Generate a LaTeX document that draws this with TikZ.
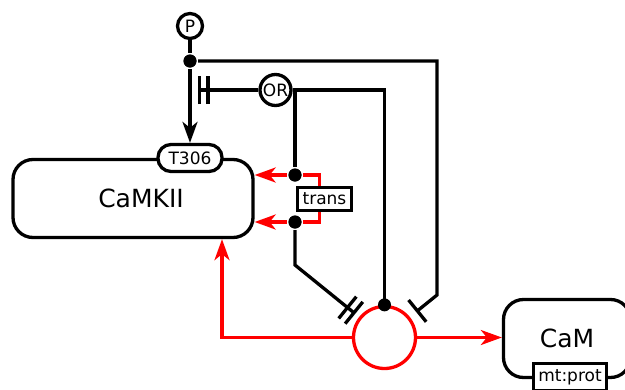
\documentclass[tikz,border=0pt]{standalone}
\usepackage{fontspec}
\setmainfont{DejaVu Sans}
\usetikzlibrary{arrows.meta,calc}
\begin{document}
\begin{tikzpicture}[x=1pt,y=-1pt, line width=3.3pt,
  small/.style={font=\fontsize{17}{20}\selectfont},
  big/.style={font=\fontsize{25}{30}\selectfont},
  ent/.style={draw, rounded corners=20pt, fill=white, big, inner sep=0pt},
  jdot/.style={circle, fill=black, inner sep=0pt, minimum size=13pt},
  smallcirc/.style={circle, draw, fill=white, small, inner sep=0pt},
  stim/.style={-{Stealth[length=21pt,width=15pt,inset=6pt]}},
  inh/.style={-{Bar[width=28pt]}},
  nec/.style={-{Bar[width=28pt,sep=5pt]Bar[width=28pt]}},
  rline/.style={draw=red, line width=3.3pt},
]
\useasboundingbox (0,0) rectangle (625,389);

% nodes
\node[ent, minimum width=240pt, minimum height=78pt] (camkii) at (133,198.5) {\hspace*{16pt}CaMKII};
\node[draw, rounded corners=13pt, fill=white, small, minimum width=64pt, minimum height=27pt, inner sep=0pt] (t306) at (190,158) {T306};
\node[ent, minimum width=127pt, minimum height=78pt] (cam) at (567,338.5) {\raisebox{-3pt}{CaM}};
\node[draw, fill=white, small, minimum width=73pt, minimum height=27pt, inner sep=0pt] (mtprot) at (570,377) {mt:prot};
\node[smallcirc, minimum size=25pt] (P) at (190,26) {P};
\node[smallcirc, minimum size=31pt] (OR) at (275.5,90) {OR};
\node[draw, fill=white, small, minimum width=54pt, minimum height=23pt, inner sep=0pt] (trans) at (324.5,199) {trans};
\node[circle, draw=red, minimum size=62pt, inner sep=0pt] (circ) at (384.5,337.5) {};
\node[jdot] (dot1) at (190,61) {};
\node[jdot] (dotA) at (295,175) {};
\node[jdot] (dotB) at (295,222) {};
\coordinate (rt) at (437,295);
\coordinate (lb) at (295,265);

% black connectors
\draw (P.south) -- (dot1);
\draw[stim] (dot1) -- (t306.north);
\draw[inh, shorten >=8pt] (dot1) -| (rt) -- (circ);
\draw[nec, shorten >=8pt] (OR.west) -- (OR.west -| dot1);
\draw (OR.east) -| (circ.north);
\draw (OR.east -| dotA) -- (dotA);
\draw[nec, shorten >=5pt] (dotB) -- (lb) -- (circ);

% red connectors
\draw[rline] (dotA) -| ([xshift=-5pt]trans.north);
\draw[rline] ([xshift=-5pt]trans.south) |- (dotB);
\draw[rline, stim, red] (dotA) -- (dotA -| camkii.east);
\draw[rline, stim, red] (dotB) -- (dotB -| camkii.east);
\draw[rline, stim, red] (circ.west) -| ([xshift=89pt]camkii.south);
\draw[rline, stim, red] (circ.east) -- (circ.east -| cam.west);

% dots on top
\node[jdot] at (dot1) {};
\node[jdot] at (dotA) {};
\node[jdot] at (dotB) {};
\node[jdot] (dotC) at (circ.north) {};
\end{tikzpicture}
\end{document}
